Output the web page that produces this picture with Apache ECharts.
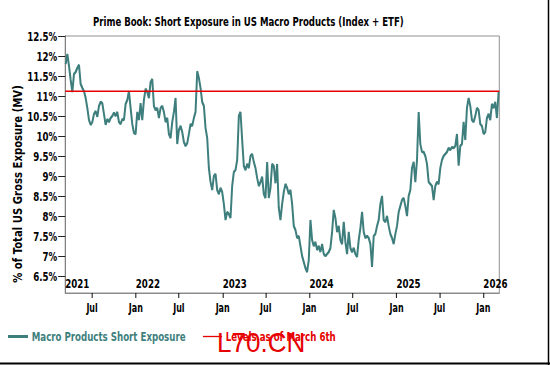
<!DOCTYPE html>
<html><head><meta charset="utf-8">
<script src="https://cdn.jsdelivr.net/npm/echarts@6/dist/echarts.min.js"></script>
<style>
html,body{margin:0;padding:0;background:#fff;overflow:hidden}
#wrap{width:550px;height:365px;overflow:hidden}
#c{width:743px;height:365px;transform-origin:0 0;transform:scaleX(0.740242)}
</style>
</head><body><div id="wrap"><div id="c"></div></div>
<script>
// ---- data (weekly readings, % of total US gross exposure) ----
const startDate = '2021-03-12';
const stepDays = 7;
const exposure = [
 11.8, 12.05, 11.75, 11.4, 11.1, 11.55, 11.6, 11.7, 11.78, 11.3,
 11.2, 11.12, 10.95, 10.7, 10.4, 10.28, 10.35, 10.55, 10.62, 10.48,
 10.75, 10.85, 10.82, 10.55, 10.28, 10.42, 10.35, 10.45, 10.5, 10.58,
 10.5, 10.6, 10.35, 10.3, 10.42, 10.4, 10.8, 10.9, 11.12, 10.7,
 10.3, 10.08, 10.05, 10.6, 10.4, 10.82, 10.4, 10.9, 11.18, 11.1,
 10.95, 11.35, 11.42, 10.75, 10.65, 10.7, 10.45, 10.7, 10.75, 10.6,
 10.35, 10.45, 10.05, 9.95, 10.35, 10.6, 10.95, 9.8, 10.15, 10.25,
 10.1, 9.85, 9.75, 9.82, 10.05, 10.3, 10.25, 10.45, 10.6, 11.62,
 11.45, 11.2, 10.85, 10.75, 10.2, 9.95, 9.2, 8.85, 8.65, 9.0,
 9.05, 8.65, 8.55, 8.7, 8.6, 8.3, 7.9, 8.1, 8.05, 7.95,
 8.75, 9.1, 9.15, 9.4, 10.5, 10.6, 9.9, 9.25, 9.15, 9.3,
 9.2, 9.5, 9.55, 9.35, 9.2, 8.95, 8.75, 8.85, 8.98, 8.55,
 8.45, 9.35, 8.45, 8.7, 9.3, 9.25, 8.82, 9.3, 8.2, 7.9,
 8.3, 8.6, 8.8, 8.7, 8.55, 8.65, 8.3, 7.75, 7.65, 7.45,
 7.5, 7.25, 7.0, 6.85, 6.7, 6.6, 6.9, 7.9, 7.4, 7.25,
 7.35, 7.15, 7.25, 7.1, 7.3, 7.05, 7.0, 7.05, 7.1, 7.2,
 7.6, 8.15, 7.95, 7.6, 7.75, 7.4, 7.3, 7.85, 7.35, 7.05,
 7.6, 7.2, 7.1, 7.2, 7.05, 6.98, 7.4, 7.7, 8.1, 7.6,
 7.45, 7.5, 7.45, 7.3, 6.73, 7.5, 7.55, 7.75, 7.9, 8.3,
 8.5, 7.9, 7.85, 8.0, 7.75, 7.55, 7.45, 7.3, 7.55, 7.75,
 8.1, 8.25, 8.4, 8.45, 8.25, 8.0, 8.5, 8.65, 9.2, 9.35,
 8.85, 9.4, 10.6, 9.8, 9.6, 9.6, 9.5, 9.3, 8.85, 8.8,
 8.75, 8.4, 8.75, 8.85, 8.8, 9.2, 9.4, 9.5, 9.55, 9.6,
 9.7, 9.65, 9.72, 9.7, 9.75, 10.05, 9.26, 9.75, 9.8, 10.35,
 9.9, 10.7, 10.95, 10.75, 10.4, 10.35, 10.5, 10.7, 10.65, 10.3,
 10.25, 10.05, 10.1, 10.45, 10.55, 10.4, 10.8, 10.7, 10.85, 10.45,
 11.1
];
const levelValue = 11.12;
const xMin = '2021-03-10';
const xMax = '2026-03-09';
const monthTicks = ['2021-07-01','2022-01-01','2022-07-01','2023-01-01','2023-07-01','2024-01-01','2024-07-01','2025-01-01','2025-07-01','2026-01-01'];
const yearTicks = ['2022-01-01','2023-01-01','2024-01-01','2025-01-01','2026-01-01'];
const yTicks = [6.5,7,7.5,8,8.5,9,9.5,10,10.5,11,11.5,12,12.5];
const yMin = 6.075, yMax = 12.5;

const seriesName = 'Macro Products Short Exposure';
const levelName = 'Levels as of March 6th';
const teal = '#3e7f7d';
const red = '#e60000';
const FONT = '"DejaVu Sans Condensed","DejaVu Sans",sans-serif';

// the page is drawn 743 px wide and squeezed horizontally to 550 px (condensed type)
const K = 550 / 743;
const W = v => v / K;   // real px -> drawing px (horizontal)

const ts = s => Date.parse(s + 'T00:00:00Z');
const t0 = ts(startDate);
const lineData = exposure.map((v, i) => [t0 + i * stepDays * 86400000, v]);
const xMinT = ts(xMin), xMaxT = ts(xMax);

const chart = echarts.init(document.getElementById('c'), null, {renderer: 'svg'});
chart.setOption({
  animation: false,
  backgroundColor: '#fff',
  title: {
    text: 'Prime Book: Short Exposure in US Macro Products (Index + ETF)',
    left: W(93), top: 15, padding: 0,
    textStyle: {fontFamily: FONT, fontSize: 12.9, fontWeight: 'bold', color: '#000'}
  },
  grid: {left: W(65.2), right: W(50.7), top: 36, bottom: 72, show: true, borderColor: '#808080', borderWidth: 1, outerBoundsMode: 'none'},
  legend: [
    {data: [{name: seriesName, textStyle: {color: teal}}], left: W(8), top: 330, padding: 0,
     icon: 'rect', itemWidth: W(20), itemHeight: 3, itemGap: 4,
     textStyle: {fontFamily: FONT, fontSize: 13, fontWeight: 'bold'}},
    {data: [{name: levelName, textStyle: {color: red}}], left: W(203), top: 330, padding: 0,
     icon: 'rect', itemWidth: W(19), itemHeight: 1.3, itemGap: 4,
     textStyle: {fontFamily: FONT, fontSize: 13, fontWeight: 'bold'}}
  ],
  xAxis: [
    {type: 'value', min: xMinT, max: xMaxT,
     axisLine: {show: true, lineStyle: {color: '#808080'}},
     axisTick: {show: true, customValues: monthTicks.map(ts), length: 5, lineStyle: {color: '#000', width: 1.3}},
     axisLabel: {customValues: monthTicks.map(ts), margin: 8, color: '#000',
       fontFamily: FONT, fontSize: 12, fontWeight: 'bold',
       formatter: v => new Date(v).getUTCMonth() === 0 ? 'Jan' : 'Jul'},
     splitLine: {show: false}},
    {type: 'value', min: xMinT, max: xMaxT, position: 'bottom',
     axisLine: {show: false}, axisTick: {show: false},
     axisLabel: {inside: true, customValues: [xMinT].concat(yearTicks.map(ts)), margin: 3,
       align: 'left', color: '#000', fontFamily: FONT, fontSize: 13, fontWeight: 'bold',
       formatter: v => String(new Date(v).getUTCFullYear())},
     splitLine: {show: false}}
  ],
  yAxis: {type: 'value', min: yMin, max: yMax,
    axisLine: {show: true, lineStyle: {color: '#808080', width: 1.3}},
    axisTick: {show: true, customValues: yTicks, length: W(7), lineStyle: {color: '#000'}},
    axisLabel: {customValues: yTicks, margin: W(8), color: '#000', fontFamily: FONT, fontSize: 13, fontWeight: 'bold',
      formatter: v => v + '%'},
    splitLine: {show: false}},
  series: [
    {name: seriesName, type: 'line', xAxisIndex: 0, data: lineData, showSymbol: false,
     color: teal, lineStyle: {width: 2.7, color: teal}, z: 2},
    {name: levelName, type: 'line', xAxisIndex: 0,
     data: [[xMinT, levelValue], [xMaxT, levelValue]], showSymbol: false,
     color: red, lineStyle: {width: 1.4, color: red}, z: 3}
  ],
  graphic: [
    {type: 'text', x: W(18), y: 184, rotation: Math.PI / 2, scaleX: 0.9, scaleY: 1 / K,
     style: {text: '% of Total US Gross Exposure (MV)', fill: '#000', font: 'bold 12.5px ' + FONT,
       align: 'center', verticalAlign: 'middle'}},
    {type: 'text', x: W(217), y: 329, scaleX: 0.93 / K,
     style: {text: 'L70.CN', fill: red, font: '28px "Liberation Sans",sans-serif', verticalAlign: 'top'}},
    {type: 'line', shape: {x1: 0, y1: 363.5, x2: W(550), y2: 363.5}, style: {stroke: '#000', lineWidth: 2}},
    {type: 'line', shape: {x1: W(548.5), y1: 0, x2: W(548.5), y2: 365}, style: {stroke: '#000', lineWidth: W(1.5)}}
  ]
});
</script></body></html>
